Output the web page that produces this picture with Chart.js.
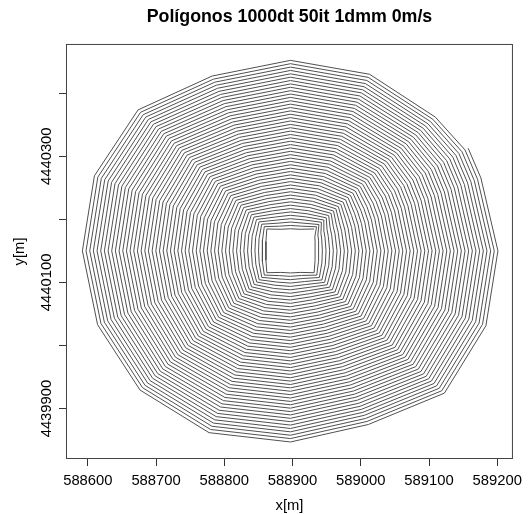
<!DOCTYPE html>
<html>
<head>
<meta charset="utf-8">
<script src="https://cdn.jsdelivr.net/npm/chart.js@4/dist/chart.umd.min.js"></script>
<style>
  html, body { margin: 0; padding: 0; background: #fff; }
</style>
</head>
<body>
<canvas id="chart" width="529" height="514"></canvas>
<script>
// fire front after each iteration, stored as distance (m) from the ignition
// centre along fixed vertex directions; index 0 is the ignition square, 50 the last front
const chartTitle = 'Polígonos 1000dt 50it 1dmm 0m/s';
const centreX = 588897;
const centreY = 4440150;

// direction of each vertex track in degrees, in drawing order
const trackAngles = [45, 67.5, 90, 112.5, 135, 157.5, 180, 202.5, 225, 247.5, 270, 292.5, 315, 337.5, 0, 22.5, 32];

const r000 = [36, 41.4, 46.7, 52.1, 57.4, 62.8, 68.2, 73.5, 78.9, 84.2, 89.6, 95.0, 100.3, 105.7, 111.0, 116.4, 121.8, 127.1, 132.5, 137.8, 143.2, 148.6, 153.9, 159.3, 164.6, 170.0, 175.4, 180.7, 186.1, 191.4, 196.8, 202.2, 207.5, 212.9, 218.2, 223.6, 229.0, 234.3, 239.7, 245.0, 250.4, 255.8, 261.1, 266.5, 271.8, 277.2, 282.6, 287.9, 293.3, 298.6, 304.0];
const r022 = [39, 44.3, 49.5, 54.8, 60.0, 65.3, 70.6, 75.8, 81.1, 86.3, 91.6, 96.9, 102.1, 107.4, 112.6, 117.9, 123.2, 128.4, 133.7, 138.9, 144.2, 149.5, 154.7, 160.0, 165.2, 170.5, 175.8, 181.0, 186.3, 191.5, 196.8, 202.1, 207.3, 212.6, 217.8, 223.1, 228.4, 233.6, 238.9, 244.1, 249.4, 254.7, 259.9, 265.2, 270.4, 275.7, 281.0, 286.2, 291.5, 296.7, 302.0];
const r032 = [42, 47.3, 52.6, 57.9, 63.2, 68.5, 73.8, 79.1, 84.4, 89.7, 95.0, 100.3, 105.6, 110.9, 116.2, 121.5, 126.8, 132.1, 137.4, 142.7, 148.0, 153.3, 158.6, 163.9, 169.2, 174.5, 179.8, 185.1, 190.4, 195.7, 201.0, 206.3, 211.6, 216.9, 222.2, 227.5, 232.8, 238.1, 243.4, 248.7, 254.0, 259.3, 264.6, 269.9, 275.2, 280.5, 285.8, 291.1, 296.4, 301.7, 307.0];
const r045 = [49, 54.0, 59.0, 64.1, 69.1, 74.1, 79.1, 84.1, 89.2, 94.2, 99.2, 104.2, 109.2, 114.3, 119.3, 124.3, 129.3, 134.3, 139.4, 144.4, 149.4, 154.4, 159.4, 164.5, 169.5, 174.5, 179.5, 184.5, 189.6, 194.6, 199.6, 204.6, 209.6, 214.7, 219.7, 224.7, 229.7, 234.7, 239.8, 244.8, 249.8, 254.8, 259.8, 264.9, 269.9, 274.9, 279.9, 284.9, 290.0, 295.0, 300.0];
const r067 = [37, 42.3, 47.6, 53.0, 58.3, 63.6, 68.9, 74.2, 79.6, 84.9, 90.2, 95.5, 100.8, 106.2, 111.5, 116.8, 122.1, 127.4, 132.8, 138.1, 143.4, 148.7, 154.0, 159.4, 164.7, 170.0, 175.3, 180.6, 186.0, 191.3, 196.6, 201.9, 207.2, 212.6, 217.9, 223.2, 228.5, 233.8, 239.2, 244.5, 249.8, 255.1, 260.4, 265.8, 271.1, 276.4, 281.7, 287.0, 292.4, 297.7, 303.0];
const r090 = [35, 40.3, 45.7, 51.0, 56.4, 61.7, 67.0, 72.4, 77.7, 83.1, 88.4, 93.7, 99.1, 104.4, 109.8, 115.1, 120.4, 125.8, 131.1, 136.5, 141.8, 147.1, 152.5, 157.8, 163.2, 168.5, 173.8, 179.2, 184.5, 189.9, 195.2, 200.5, 205.9, 211.2, 216.6, 221.9, 227.2, 232.6, 237.9, 243.3, 248.6, 253.9, 259.3, 264.6, 270.0, 275.3, 280.6, 286.0, 291.3, 296.7, 302.0];
const r112 = [37, 42.3, 47.5, 52.8, 58.0, 63.3, 68.6, 73.8, 79.1, 84.3, 89.6, 94.9, 100.1, 105.4, 110.6, 115.9, 121.2, 126.4, 131.7, 136.9, 142.2, 147.5, 152.7, 158.0, 163.2, 168.5, 173.8, 179.0, 184.3, 189.5, 194.8, 200.1, 205.3, 210.6, 215.8, 221.1, 226.4, 231.6, 236.9, 242.1, 247.4, 252.7, 257.9, 263.2, 268.4, 273.7, 279.0, 284.2, 289.5, 294.7, 300.0];
const r135 = [49, 54.3, 59.7, 65.0, 70.4, 75.7, 81.0, 86.4, 91.7, 97.1, 102.4, 107.7, 113.1, 118.4, 123.8, 129.1, 134.4, 139.8, 145.1, 150.5, 155.8, 161.1, 166.5, 171.8, 177.2, 182.5, 187.8, 193.2, 198.5, 203.9, 209.2, 214.5, 219.9, 225.2, 230.6, 235.9, 241.2, 246.6, 251.9, 257.3, 262.6, 267.9, 273.3, 278.6, 284.0, 289.3, 294.6, 300.0, 305.3, 310.7, 316.0];
const r157 = [39, 44.4, 49.9, 55.3, 60.8, 66.2, 71.6, 77.1, 82.5, 88.0, 93.4, 98.8, 104.3, 109.7, 115.2, 120.6, 126.0, 131.5, 136.9, 142.4, 147.8, 153.2, 158.7, 164.1, 169.6, 175.0, 180.4, 185.9, 191.3, 196.8, 202.2, 207.6, 213.1, 218.5, 224.0, 229.4, 234.8, 240.3, 245.7, 251.2, 256.6, 262.0, 267.5, 272.9, 278.4, 283.8, 289.2, 294.7, 300.1, 305.6, 311.0];
const r180 = [36, 41.4, 46.8, 52.1, 57.5, 62.9, 68.3, 73.7, 79.0, 84.4, 89.8, 95.2, 100.6, 105.9, 111.3, 116.7, 122.1, 127.5, 132.8, 138.2, 143.6, 149.0, 154.4, 159.7, 165.1, 170.5, 175.9, 181.3, 186.6, 192.0, 197.4, 202.8, 208.2, 213.5, 218.9, 224.3, 229.7, 235.1, 240.4, 245.8, 251.2, 256.6, 262.0, 267.3, 272.7, 278.1, 283.5, 288.9, 294.2, 299.6, 305.0];
const r202 = [39, 44.3, 49.7, 55.0, 60.4, 65.7, 71.0, 76.4, 81.7, 87.1, 92.4, 97.7, 103.1, 108.4, 113.8, 119.1, 124.4, 129.8, 135.1, 140.5, 145.8, 151.1, 156.5, 161.8, 167.2, 172.5, 177.8, 183.2, 188.5, 193.9, 199.2, 204.5, 209.9, 215.2, 220.6, 225.9, 231.2, 236.6, 241.9, 247.3, 252.6, 257.9, 263.3, 268.6, 274.0, 279.3, 284.6, 290.0, 295.3, 300.7, 306.0];
const r225 = [49, 54.3, 59.5, 64.8, 70.0, 75.3, 80.6, 85.8, 91.1, 96.3, 101.6, 106.9, 112.1, 117.4, 122.6, 127.9, 133.2, 138.4, 143.7, 148.9, 154.2, 159.5, 164.7, 170.0, 175.2, 180.5, 185.8, 191.0, 196.3, 201.5, 206.8, 212.1, 217.3, 222.6, 227.8, 233.1, 238.4, 243.6, 248.9, 254.1, 259.4, 264.7, 269.9, 275.2, 280.4, 285.7, 291.0, 296.2, 301.5, 306.7, 312.0];
const r247 = [37, 42.5, 48.0, 53.5, 59.0, 64.5, 70.0, 75.5, 81.0, 86.5, 92.0, 97.5, 103.0, 108.5, 114.0, 119.5, 125.0, 130.5, 136.0, 141.5, 147.0, 152.5, 158.0, 163.5, 169.0, 174.5, 180.0, 185.5, 191.0, 196.5, 202.0, 207.5, 213.0, 218.5, 224.0, 229.5, 235.0, 240.5, 246.0, 251.5, 257.0, 262.5, 268.0, 273.5, 279.0, 284.5, 290.0, 295.5, 301.0, 306.5, 312.0];
const r270 = [35, 40.4, 45.7, 51.1, 56.4, 61.8, 67.2, 72.5, 77.9, 83.2, 88.6, 94.0, 99.3, 104.7, 110.0, 115.4, 120.8, 126.1, 131.5, 136.8, 142.2, 147.6, 152.9, 158.3, 163.6, 169.0, 174.4, 179.7, 185.1, 190.4, 195.8, 201.2, 206.5, 211.9, 217.2, 222.6, 228.0, 233.3, 238.7, 244.0, 249.4, 254.8, 260.1, 265.5, 270.8, 276.2, 281.6, 286.9, 292.3, 297.6, 303.0];
const r292 = [37, 42.2, 47.4, 52.7, 57.9, 63.1, 68.3, 73.5, 78.8, 84.0, 89.2, 94.4, 99.6, 104.9, 110.1, 115.3, 120.5, 125.7, 131.0, 136.2, 141.4, 146.6, 151.8, 157.1, 162.3, 167.5, 172.7, 177.9, 183.2, 188.4, 193.6, 198.8, 204.0, 209.3, 214.5, 219.7, 224.9, 230.1, 235.4, 240.6, 245.8, 251.0, 256.2, 261.5, 266.7, 271.9, 277.1, 282.3, 287.6, 292.8, 298.0];
const r315 = [49, 54.4, 59.8, 65.2, 70.6, 76.0, 81.4, 86.8, 92.2, 97.6, 103.0, 108.4, 113.8, 119.2, 124.6, 130.0, 135.4, 140.8, 146.2, 151.6, 157.0, 162.4, 167.8, 173.2, 178.6, 184.0, 189.4, 194.8, 200.2, 205.6, 211.0, 216.4, 221.8, 227.2, 232.6, 238.0, 243.4, 248.8, 254.2, 259.6, 265.0, 270.4, 275.8, 281.2, 286.6, 292.0, 297.4, 302.8, 308.2, 313.6, 319.0];
const r337 = [39, 44.4, 49.8, 55.3, 60.7, 66.1, 71.5, 76.9, 82.4, 87.8, 93.2, 98.6, 104.0, 109.5, 114.9, 120.3, 125.7, 131.1, 136.6, 142.0, 147.4, 152.8, 158.2, 163.7, 169.1, 174.5, 179.9, 185.3, 190.8, 196.2, 201.6, 207.0, 212.4, 217.9, 223.3, 228.7, 234.1, 239.5, 245.0, 250.4, 255.8, 261.2, 266.6, 272.1, 277.5, 282.9, 288.3, 293.7, 299.2, 304.6, 310.0];

const xTicks = [588600, 588700, 588800, 588900, 589000, 589100, 589200];
const yTicks = [4439900, 4440000, 4440100, 4440200, 4440300, 4440400];
const yTickLabels = ['4439900', '', '4440100', '', '4440300', ''];

// same order as trackAngles
const tracks = [r045, r067, r090, r112, r135, r157, r180, r202, r225, r247, r270, r292, r315, r337, r000, r022, r032];

// one continuous path: each front in turn, the last vertex joining the next front
const front = [];
for (let it = 0; it < r000.length; it++) {
  tracks.forEach((track, j) => {
    const a = trackAngles[j] * Math.PI / 180;
    front.push({ x: centreX + track[it] * Math.cos(a), y: centreY + track[it] * Math.sin(a) });
  });
}

const FONT = '"Liberation Sans", Arial, Helvetica, sans-serif';
Chart.defaults.font.family = FONT;
Chart.defaults.color = '#000';

// box round the plotting region
const frame = {
  id: 'frame',
  afterDatasetsDraw(chart) {
    const { ctx, chartArea: a } = chart;
    ctx.save();
    ctx.strokeStyle = '#444';
    ctx.lineWidth = 1;
    ctx.strokeRect(a.left + 0.5, a.top + 0.5, a.right - a.left - 1, a.bottom - a.top - 1);
    ctx.restore();
  }
};

new Chart(document.getElementById('chart'), {
  type: 'scatter',
  data: {
    datasets: [{
      data: front,
      showLine: true,
      borderColor: '#505050',
      borderWidth: 1,
      pointRadius: 0,
      pointHoverRadius: 0,
      tension: 0,
      fill: false
    }]
  },
  options: {
    responsive: false,
    animation: false,
    devicePixelRatio: 1,
    events: [],
    layout: { autoPadding: false, padding: { top: 0, right: 8, bottom: 0, left: 0 } },
    plugins: {
      legend: { display: false },
      tooltip: { enabled: false },
      title: {
        display: true,
        text: chartTitle,
        fullSize: false,
        color: '#000',
        font: { size: 17.8, weight: 'bold' },
        padding: { top: 6.8, bottom: 15.8 }
      }
    },
    scales: {
      x: {
        type: 'linear',
        min: 588568,
        max: 589223,
        afterBuildTicks: s => { s.ticks = xTicks.map(v => ({ value: v })); },
        afterFit: s => { s.height = 55; },
        border: { display: false },
        grid: { drawOnChartArea: false, drawTicks: true, tickLength: 7, color: '#333' },
        ticks: {
          autoSkip: false,
          maxRotation: 0,
          padding: 6.5,
          font: { size: 14.8 },
          callback: v => String(v)
        },
        title: { display: true, text: 'x[m]', font: { size: 14.8 }, padding: { top: 0, bottom: -1 } }
      },
      y: {
        type: 'linear',
        min: 4439820,
        max: 4440478,
        afterBuildTicks: s => { s.ticks = yTicks.map(v => ({ value: v })); },
        afterFit: s => { s.width = 66; },
        border: { display: false },
        grid: { drawOnChartArea: false, drawTicks: true, tickLength: 7, color: '#333' },
        ticks: {
          autoSkip: false,
          minRotation: 90,
          maxRotation: 90,
          crossAlign: 'center',
          padding: -16.5,
          font: { size: 14.8 },
          callback: (v, i) => yTickLabels[i]
        },
        title: { display: true, text: 'y[m]', font: { size: 14.8 }, padding: { top: 11, bottom: 0 } }
      }
    }
  },
  plugins: [frame]
});
</script>
</body>
</html>
